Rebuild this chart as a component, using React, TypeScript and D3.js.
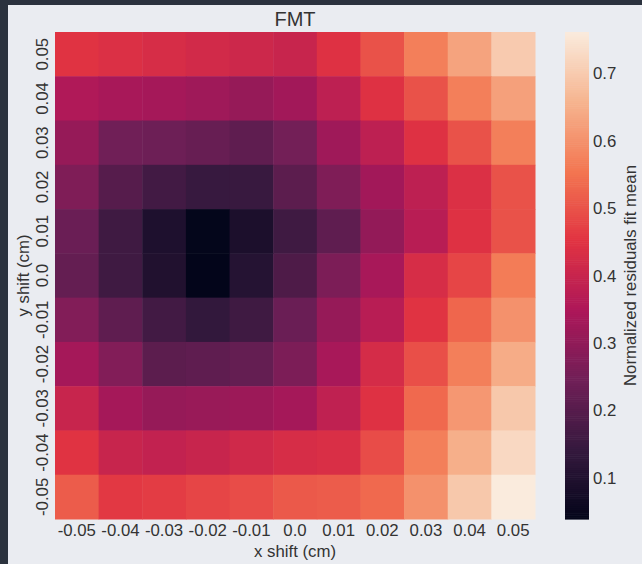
import React, { useEffect, useRef } from 'react';
import * as d3 from 'd3';

// tick labels as printed on the axes
const xLabels = ['-0.05', '-0.04', '-0.03', '-0.02', '-0.01', '0.0', '0.01', '0.02', '0.03', '0.04', '0.05'];
const yLabels = ['0.05', '0.04', '0.03', '0.02', '0.01', '0.0', '-0.01', '-0.02', '-0.03', '-0.04', '-0.05'];

// normalized residuals fit mean, one row per y shift (top to bottom)
const row005 = [0.45, 0.44, 0.43, 0.42, 0.41, 0.40, 0.445, 0.50, 0.57, 0.63, 0.70];
const row004 = [0.355, 0.34, 0.335, 0.325, 0.31, 0.33, 0.38, 0.445, 0.50, 0.57, 0.625];
const row003 = [0.31, 0.245, 0.24, 0.23, 0.215, 0.25, 0.325, 0.38, 0.445, 0.50, 0.57];
const row002 = [0.27, 0.20, 0.165, 0.145, 0.148, 0.21, 0.27, 0.33, 0.38, 0.44, 0.50];
const row001 = [0.235, 0.16, 0.095, 0.042, 0.09, 0.16, 0.215, 0.305, 0.37, 0.445, 0.50];
const row000 = [0.225, 0.16, 0.10, 0.039, 0.11, 0.185, 0.265, 0.34, 0.43, 0.48, 0.565];
const rowM001 = [0.275, 0.215, 0.165, 0.135, 0.16, 0.235, 0.31, 0.37, 0.45, 0.53, 0.60];
const rowM002 = [0.335, 0.275, 0.21, 0.215, 0.225, 0.265, 0.34, 0.425, 0.495, 0.57, 0.645];
const rowM003 = [0.40, 0.335, 0.31, 0.315, 0.32, 0.335, 0.385, 0.445, 0.535, 0.61, 0.695];
const rowM004 = [0.45, 0.40, 0.39, 0.40, 0.415, 0.43, 0.435, 0.49, 0.57, 0.65, 0.725];
const rowM005 = [0.515, 0.46, 0.465, 0.48, 0.49, 0.51, 0.515, 0.535, 0.60, 0.695, 0.761];
const rows = [row005, row004, row003, row002, row001, row000, rowM001, rowM002, rowM003, rowM004, rowM005];

const colorbarTicks = [0.1, 0.2, 0.3, 0.4, 0.5, 0.6, 0.7];

// seaborn "rocket" anchor colours
const rocketStops = ['#03051a', '#35193e', '#701f57', '#ad1759', '#e13342', '#f37651', '#f6b48f', '#faebdd'];

const FONT = "'Liberation Sans', Arial, sans-serif";
const TEXT = '#333333';
const TICK_SIZE = '16.8px';

const App = () => {
  const svgRef = useRef(null);

  useEffect(() => {
    if (!svgRef.current) return;
    const svg = d3.select(svgRef.current);
    svg.selectAll('*').remove();

    const width = 642;
    const height = 564;
    const plot = { left: 55, right: 535, top: 32, bottom: 519 };
    const cbar = { left: 565, right: 589 };

    const vmin = 0.039;
    const vmax = 0.761;
    const rocket = d3.piecewise(d3.interpolateRgb, rocketStops);
    const color = d3.scaleSequential(rocket).domain([vmin, vmax]);

    // page background + dark window edge
    svg.append('rect').attr('width', width).attr('height', height).attr('fill', '#2b323e');
    svg.append('rect').attr('x', 8).attr('y', 5).attr('width', width - 8).attr('height', height - 5).attr('fill', '#eaecf1');

    const x = d3.scaleBand().domain(xLabels).range([plot.left, plot.right]).padding(0);
    const y = d3.scaleBand().domain(yLabels).range([plot.top, plot.bottom]).padding(0);

    // cells
    const cells = rows.flatMap((r, i) => r.map((v, j) => ({ xl: xLabels[j], yl: yLabels[i], v })));
    svg.append('g')
      .selectAll('rect')
      .data(cells)
      .enter()
      .append('rect')
      .attr('x', d => x(d.xl))
      .attr('y', d => y(d.yl))
      .attr('width', x.bandwidth() + 0.5)
      .attr('height', y.bandwidth() + 0.5)
      .attr('fill', d => color(d.v));

    // x tick labels
    svg.append('g')
      .selectAll('text')
      .data(xLabels)
      .enter()
      .append('text')
      .attr('x', d => x(d) + x.bandwidth() / 2)
      .attr('y', plot.bottom + 16.5)
      .attr('text-anchor', 'middle')
      .attr('font-family', FONT)
      .attr('font-size', TICK_SIZE)
      .attr('fill', TEXT)
      .text(d => d);

    // y tick labels (rotated)
    svg.append('g')
      .selectAll('text')
      .data(yLabels)
      .enter()
      .append('text')
      .attr('transform', d => `translate(48, ${y(d) + y.bandwidth() / 2}) rotate(-90)`)
      .attr('text-anchor', 'middle')
      .attr('font-family', FONT)
      .attr('font-size', TICK_SIZE)
      .attr('fill', TEXT)
      .text(d => d);

    // title
    svg.append('text')
      .attr('x', (plot.left + plot.right) / 2)
      .attr('y', 26)
      .attr('text-anchor', 'middle')
      .attr('font-family', FONT)
      .attr('font-size', '20px')
      .attr('fill', TEXT)
      .text('FMT');

    // axis labels
    svg.append('text')
      .attr('x', (plot.left + plot.right) / 2)
      .attr('y', 557)
      .attr('text-anchor', 'middle')
      .attr('font-family', FONT)
      .attr('font-size', TICK_SIZE)
      .attr('fill', TEXT)
      .text('x shift (cm)');

    svg.append('text')
      .attr('transform', `translate(29, ${(plot.top + plot.bottom) / 2}) rotate(-90)`)
      .attr('text-anchor', 'middle')
      .attr('font-family', FONT)
      .attr('font-size', TICK_SIZE)
      .attr('fill', TEXT)
      .text('y shift (cm)');

    // colorbar
    const cy = d3.scaleLinear().domain([vmin, vmax]).range([plot.bottom, plot.top]);
    const steps = d3.range(0, 256);
    const stepH = (plot.bottom - plot.top) / steps.length;
    svg.append('g')
      .selectAll('rect')
      .data(steps)
      .enter()
      .append('rect')
      .attr('x', cbar.left)
      .attr('y', d => plot.bottom - (d + 1) * stepH)
      .attr('width', cbar.right - cbar.left)
      .attr('height', stepH + 0.6)
      .attr('fill', d => rocket((d + 0.5) / steps.length));

    svg.append('g')
      .selectAll('text')
      .data(colorbarTicks)
      .enter()
      .append('text')
      .attr('x', cbar.right + 4)
      .attr('y', d => cy(d))
      .attr('dy', '0.36em')
      .attr('font-family', FONT)
      .attr('font-size', TICK_SIZE)
      .attr('fill', TEXT)
      .text(d => d.toFixed(1));

    svg.append('text')
      .attr('transform', `translate(636, ${(plot.top + plot.bottom) / 2}) rotate(-90)`)
      .attr('text-anchor', 'middle')
      .attr('font-family', FONT)
      .attr('font-size', TICK_SIZE)
      .attr('fill', TEXT)
      .text('Normalized residuals fit mean');
  }, []);

  return (
    <div style={{ position: 'absolute', left: 0, top: 0 }}>
      <svg ref={svgRef} width={642} height={564} style={{ display: 'block' }}></svg>
    </div>
  );
};

export default App;
